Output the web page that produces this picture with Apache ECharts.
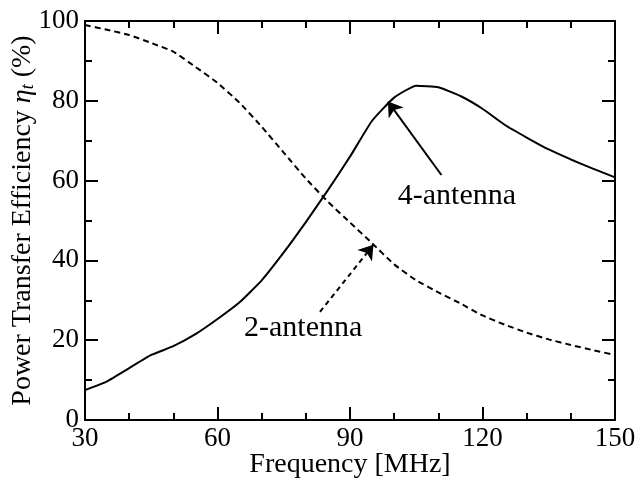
<!DOCTYPE html>
<html>
<head>
<meta charset="utf-8">
<script src="https://cdn.jsdelivr.net/npm/echarts@6/dist/echarts.min.js"></script>
<style>
html,body{margin:0;padding:0;background:#fff;}
#chart{width:638px;height:481px;}
</style>
</head>
<body>
<div id="chart"></div>
<script>
var freq = [30,35,40,45,50,55,60,65,70,75,80,85,90,95,100,105,110,115,120,125,130,135,140,145,150];
var fourAntenna = [7.5,9.7,13,16.3,18.5,21.5,25.3,29.5,35,42,49.6,57.6,66,75,80.8,83.8,83.4,81.2,78,74,70.8,67.8,65.3,63,60.8];
var twoAntenna = [99,97.8,96.5,94.5,92.3,88.5,84.5,79.5,73.5,67,60.5,54.7,49.5,44.3,39,35,32,29.2,26.2,23.9,21.9,20.2,18.8,17.5,16.3];
var xTicks = [30,60,90,120,150];
var yTicks = [0,20,40,60,80,100];
var label4 = {text:'4-antenna', at:[114.2,56], arrowFrom:[110.7,61.4], arrowTo:[98.6,79.8]};
var label2 = {text:'2-antenna', at:[79.4,23], arrowFrom:[83.2,27.1], arrowTo:[95.3,43.9]};

var FONT = "'Liberation Serif','Times New Roman',serif";
function pairs(xs, ys){ return xs.map(function(x,i){return [x, ys[i]];}); }

var chart = echarts.init(document.getElementById('chart'), null, {renderer:'canvas'});
var axisLine = {show:true, onZero:false, lineStyle:{color:'#000', width:2}};
var axisTick = {show:true, inside:true, length:13, lineStyle:{color:'#000', width:2}};

function xAxis(pos, showLabel){
  return {
    type:'value', position:pos, min:30, max:150, interval:30,
    axisLine:axisLine, axisTick:axisTick, splitLine:{show:false},
    minorTick:{show:true, splitNumber:3, length:7, lineStyle:{color:'#000', width:2}},
    axisLabel:{show:showLabel, color:'#000', fontFamily:FONT, fontSize:27, margin:5},
    name: showLabel ? 'Frequency [MHz]' : '',
    nameLocation:'middle', nameGap:31, nameMoveOverlap:false,
    nameTextStyle:{color:'#000', fontFamily:FONT, fontSize:28}
  };
}
function yAxis(pos, showLabel){
  return {
    type:'value', position:pos, min:0, max:100, interval:20,
    axisLine:axisLine, axisTick:axisTick, splitLine:{show:false},
    minorTick:{show:true, splitNumber:2, length:7, lineStyle:{color:'#000', width:2}},
    axisLabel:{show:showLabel, color:'#000', fontFamily:FONT, fontSize:27, margin:6},
    name: showLabel ? '{a|Power Transfer Efficiency }{i|η}{s|t}{a| (%)}' : '',
    nameLocation:'middle', nameGap:48, nameRotate:90, nameMoveOverlap:false,
    nameTextStyle:{color:'#000', fontFamily:FONT, fontSize:28,
      rich:{
        a:{fontFamily:FONT, fontSize:28, color:'#000'},
        i:{fontFamily:FONT, fontSize:28, fontStyle:'italic', color:'#000'},
        s:{fontFamily:FONT, fontSize:18, fontStyle:'italic', color:'#000', verticalAlign:'bottom', padding:[10,0,0,0]}
      }}
  };
}

function arrowLine(lbl, dashed){
  return {
    silent:true, animation:false,
    symbol:['none','arrow'], symbolSize:14,
    label:{show:false},
    lineStyle:{color:'#000', width:2, type: dashed ? [5,4] : 'solid'},
    data:[[{coord:lbl.arrowFrom},{coord:lbl.arrowTo}]]
  };
}
function textPoint(lbl){
  return {
    silent:true, animation:false, symbol:'circle', symbolSize:0,
    label:{show:true, position:'inside', formatter:lbl.text, color:'#000', fontFamily:FONT, fontSize:30},
    data:[{coord:lbl.at}]
  };
}

chart.setOption({
  animation:false,
  backgroundColor:'#fff',
  grid:{left:85, right:23, top:21, bottom:61, containLabel:false, outerBoundsMode:'none'},
  xAxis:[xAxis('bottom', true), xAxis('top', false)],
  yAxis:[yAxis('left', true), yAxis('right', false)],
  series:[
    {type:'line', name:'4-antenna', data:pairs(freq, fourAntenna), showSymbol:false, symbol:'none', smooth:0.15,
     lineStyle:{color:'#000', width:2}, itemStyle:{color:'#000'},
     markLine:arrowLine(label4, false), markPoint:textPoint(label4)},
    {type:'line', name:'2-antenna', data:pairs(freq, twoAntenna), showSymbol:false, symbol:'none', smooth:0.15,
     lineStyle:{color:'#000', width:2, type:[6,4]}, itemStyle:{color:'#000'},
     markLine:arrowLine(label2, true), markPoint:textPoint(label2)}
  ]
});
</script>
</body>
</html>
